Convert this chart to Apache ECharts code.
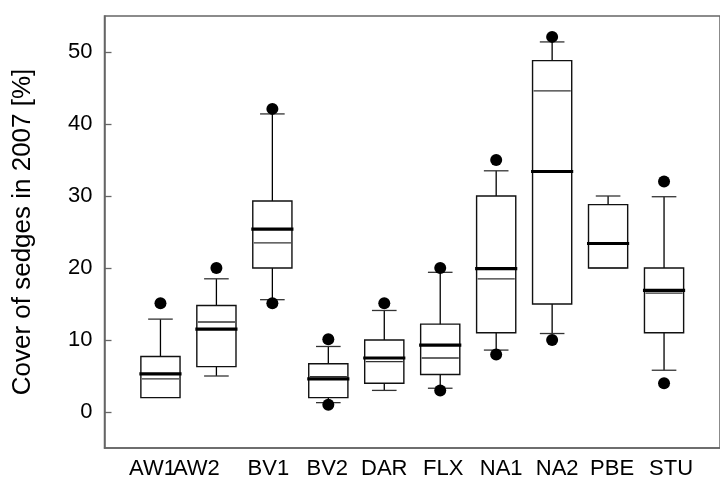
<!DOCTYPE html>
<html>
<head>
<meta charset="utf-8">
<script src="https://cdn.jsdelivr.net/npm/echarts@6/dist/echarts.min.js"></script>
<style>html,body{margin:0;padding:0;background:#fff;}#c{width:720px;height:482px;}</style>
</head>
<body>
<div id="c"></div>
<script>
const categories = ['AW1','AW2','BV1','BV2','DAR','FLX','NA1','NA2','PBE','STU'];
const whiskerLow  = [2.0, 5.0, 15.6, 1.3, 3.0, 3.3, 8.6, 10.9, 20.0, 5.8];
const q1          = [2.0, 6.3, 20.0, 2.0, 4.0, 5.2, 11.0, 15.0, 20.0, 11.0];
const median      = [4.6, 12.5, 23.5, 4.9, 7.0, 7.5, 18.5, 44.6, 20.0, 16.5];
const mean        = [5.3, 11.5, 25.4, 4.6, 7.5, 9.3, 19.9, 33.4, 23.4, 16.9];
const q3          = [7.7, 14.8, 29.3, 6.7, 10.0, 12.2, 30.0, 48.8, 28.8, 20.0];
const whiskerHigh = [12.9, 18.5, 41.4, 9.1, 14.1, 19.4, 33.5, 51.4, 30.0, 29.9];
const outlierLow  = [null, null, 15.1, 1.0, null, 3.0, 8.0, 10.0, null, 4.0];
const outlierHigh = [15.1, 20.0, 42.1, 10.1, 15.1, 20.0, 35.0, 52.1, null, 32.0];
const yTicks = [0, 10, 20, 30, 40, 50];

// label style: horizontal shift (px) of each category label, as in the original typesetting
const labelShift = [-8, -20, -4, -1, 0, 3, 5, 5, 4, 7];

const boxData = categories.map((c, i) => [i + 1, whiskerLow[i], q1[i], median[i], mean[i], q3[i], whiskerHigh[i]]);
const dots = [];
categories.forEach((c, i) => {
  if (outlierLow[i] != null) dots.push([i + 1, outlierLow[i]]);
  if (outlierHigh[i] != null) dots.push([i + 1, outlierHigh[i]]);
});

function renderBox(params, api) {
  const x = api.value(0);
  const lo = api.coord([x, api.value(1)]);
  const b1 = api.coord([x, api.value(2)]);
  const md = api.coord([x, api.value(3)]);
  const mn = api.coord([x, api.value(4)]);
  const b3 = api.coord([x, api.value(5)]);
  const hi = api.coord([x, api.value(6)]);
  const bw = api.size([0.70, 0])[0];
  const cw = api.size([0.44, 0])[0];
  const cx = lo[0];
  const blk = '#000';
  const ch = [];
  const line = (x1, y1, x2, y2, w, col) => ch.push({type: 'line', shape: {x1, y1, x2, y2}, style: {stroke: col || blk, lineWidth: w}});
  if (Math.abs(hi[1] - b3[1]) > 0.5) {
    line(cx, b3[1], cx, hi[1], 1.3);
    line(cx - cw / 2, hi[1], cx + cw / 2, hi[1], 1.3, '#333');
  }
  if (Math.abs(lo[1] - b1[1]) > 0.5) {
    line(cx, b1[1], cx, lo[1], 1.3);
    line(cx - cw / 2, lo[1], cx + cw / 2, lo[1], 1.3, '#333');
  }
  ch.push({type: 'rect', shape: {x: cx - bw / 2, y: b3[1], width: bw, height: b1[1] - b3[1]}, style: {fill: 'none', stroke: '#111', lineWidth: 1.4}});
  line(cx - bw / 2 + 1, md[1], cx + bw / 2 - 1, md[1], 1.3, '#333');
  line(cx - bw / 2 - 1.5, mn[1], cx + bw / 2 + 1.5, mn[1], 3.2, '#000');
  return {type: 'group', children: ch};
}

const rich = {};
labelShift.forEach((s, i) => {
  rich['s' + i] = {fontSize: 22, color: '#000', padding: s < 0 ? [0, -2 * s, 0, 0] : [0, 0, 0, 2 * s]};
});
const fmt = v => { const i = Math.round(v) - 1; return categories[i] ? '{s' + i + '|' + categories[i] + '}' : ''; };
const idx = categories.map((c, i) => i + 1);
// two label layers so that the tightly set neighbouring labels are not dropped by overlap checks
const layerA = idx.filter(v => v % 2 === 1);
const layerB = idx.filter(v => v % 2 === 0);

function xAxisDef(values, showLine) {
  return {
    type: 'value', min: 0, max: 11, position: 'bottom', offset: 0,
    axisLine: {show: showLine, onZero: false, lineStyle: {color: '#666', width: 1.5}},
    axisTick: {show: false},
    splitLine: {show: false},
    axisLabel: {customValues: values, formatter: fmt, rich: rich, hideOverlap: false,
      fontSize: 22, color: '#000', margin: 10}
  };
}

const chart = echarts.init(document.getElementById('c'), null, {renderer: 'canvas'});
chart.setOption({
  animation: false,
  backgroundColor: '#fff',
  textStyle: {fontFamily: 'Liberation Sans, Arial, sans-serif'},
  grid: {left: 104.5, top: 16, bottom: 34, right: -11, show: true, borderColor: '#666', borderWidth: 1.5, containLabel: false},
  xAxis: [xAxisDef(layerA, true), xAxisDef(layerB, false)],
  yAxis: {
    type: 'value', min: -5, max: 55,
    name: 'Cover of sedges in 2007 [%]', nameLocation: 'middle', nameGap: 69,
    nameTextStyle: {fontSize: 26, color: '#000'},
    axisLine: {show: true, lineStyle: {color: '#666', width: 1.5}},
    axisTick: {show: true, inside: true, length: 7, customValues: yTicks, lineStyle: {color: '#666', width: 1.3}},
    splitLine: {show: false},
    axisLabel: {customValues: yTicks, fontSize: 22, color: '#000', margin: 12}
  },
  series: [
    {type: 'custom', renderItem: renderBox, data: boxData, xAxisIndex: 0, encode: {x: 0, y: [1, 2, 3, 4, 5, 6]}, z: 2},
    {type: 'scatter', data: dots, xAxisIndex: 0, symbol: 'circle', symbolSize: 12, itemStyle: {color: '#000', opacity: 1}, z: 3}
  ]
});
</script>
</body>
</html>
